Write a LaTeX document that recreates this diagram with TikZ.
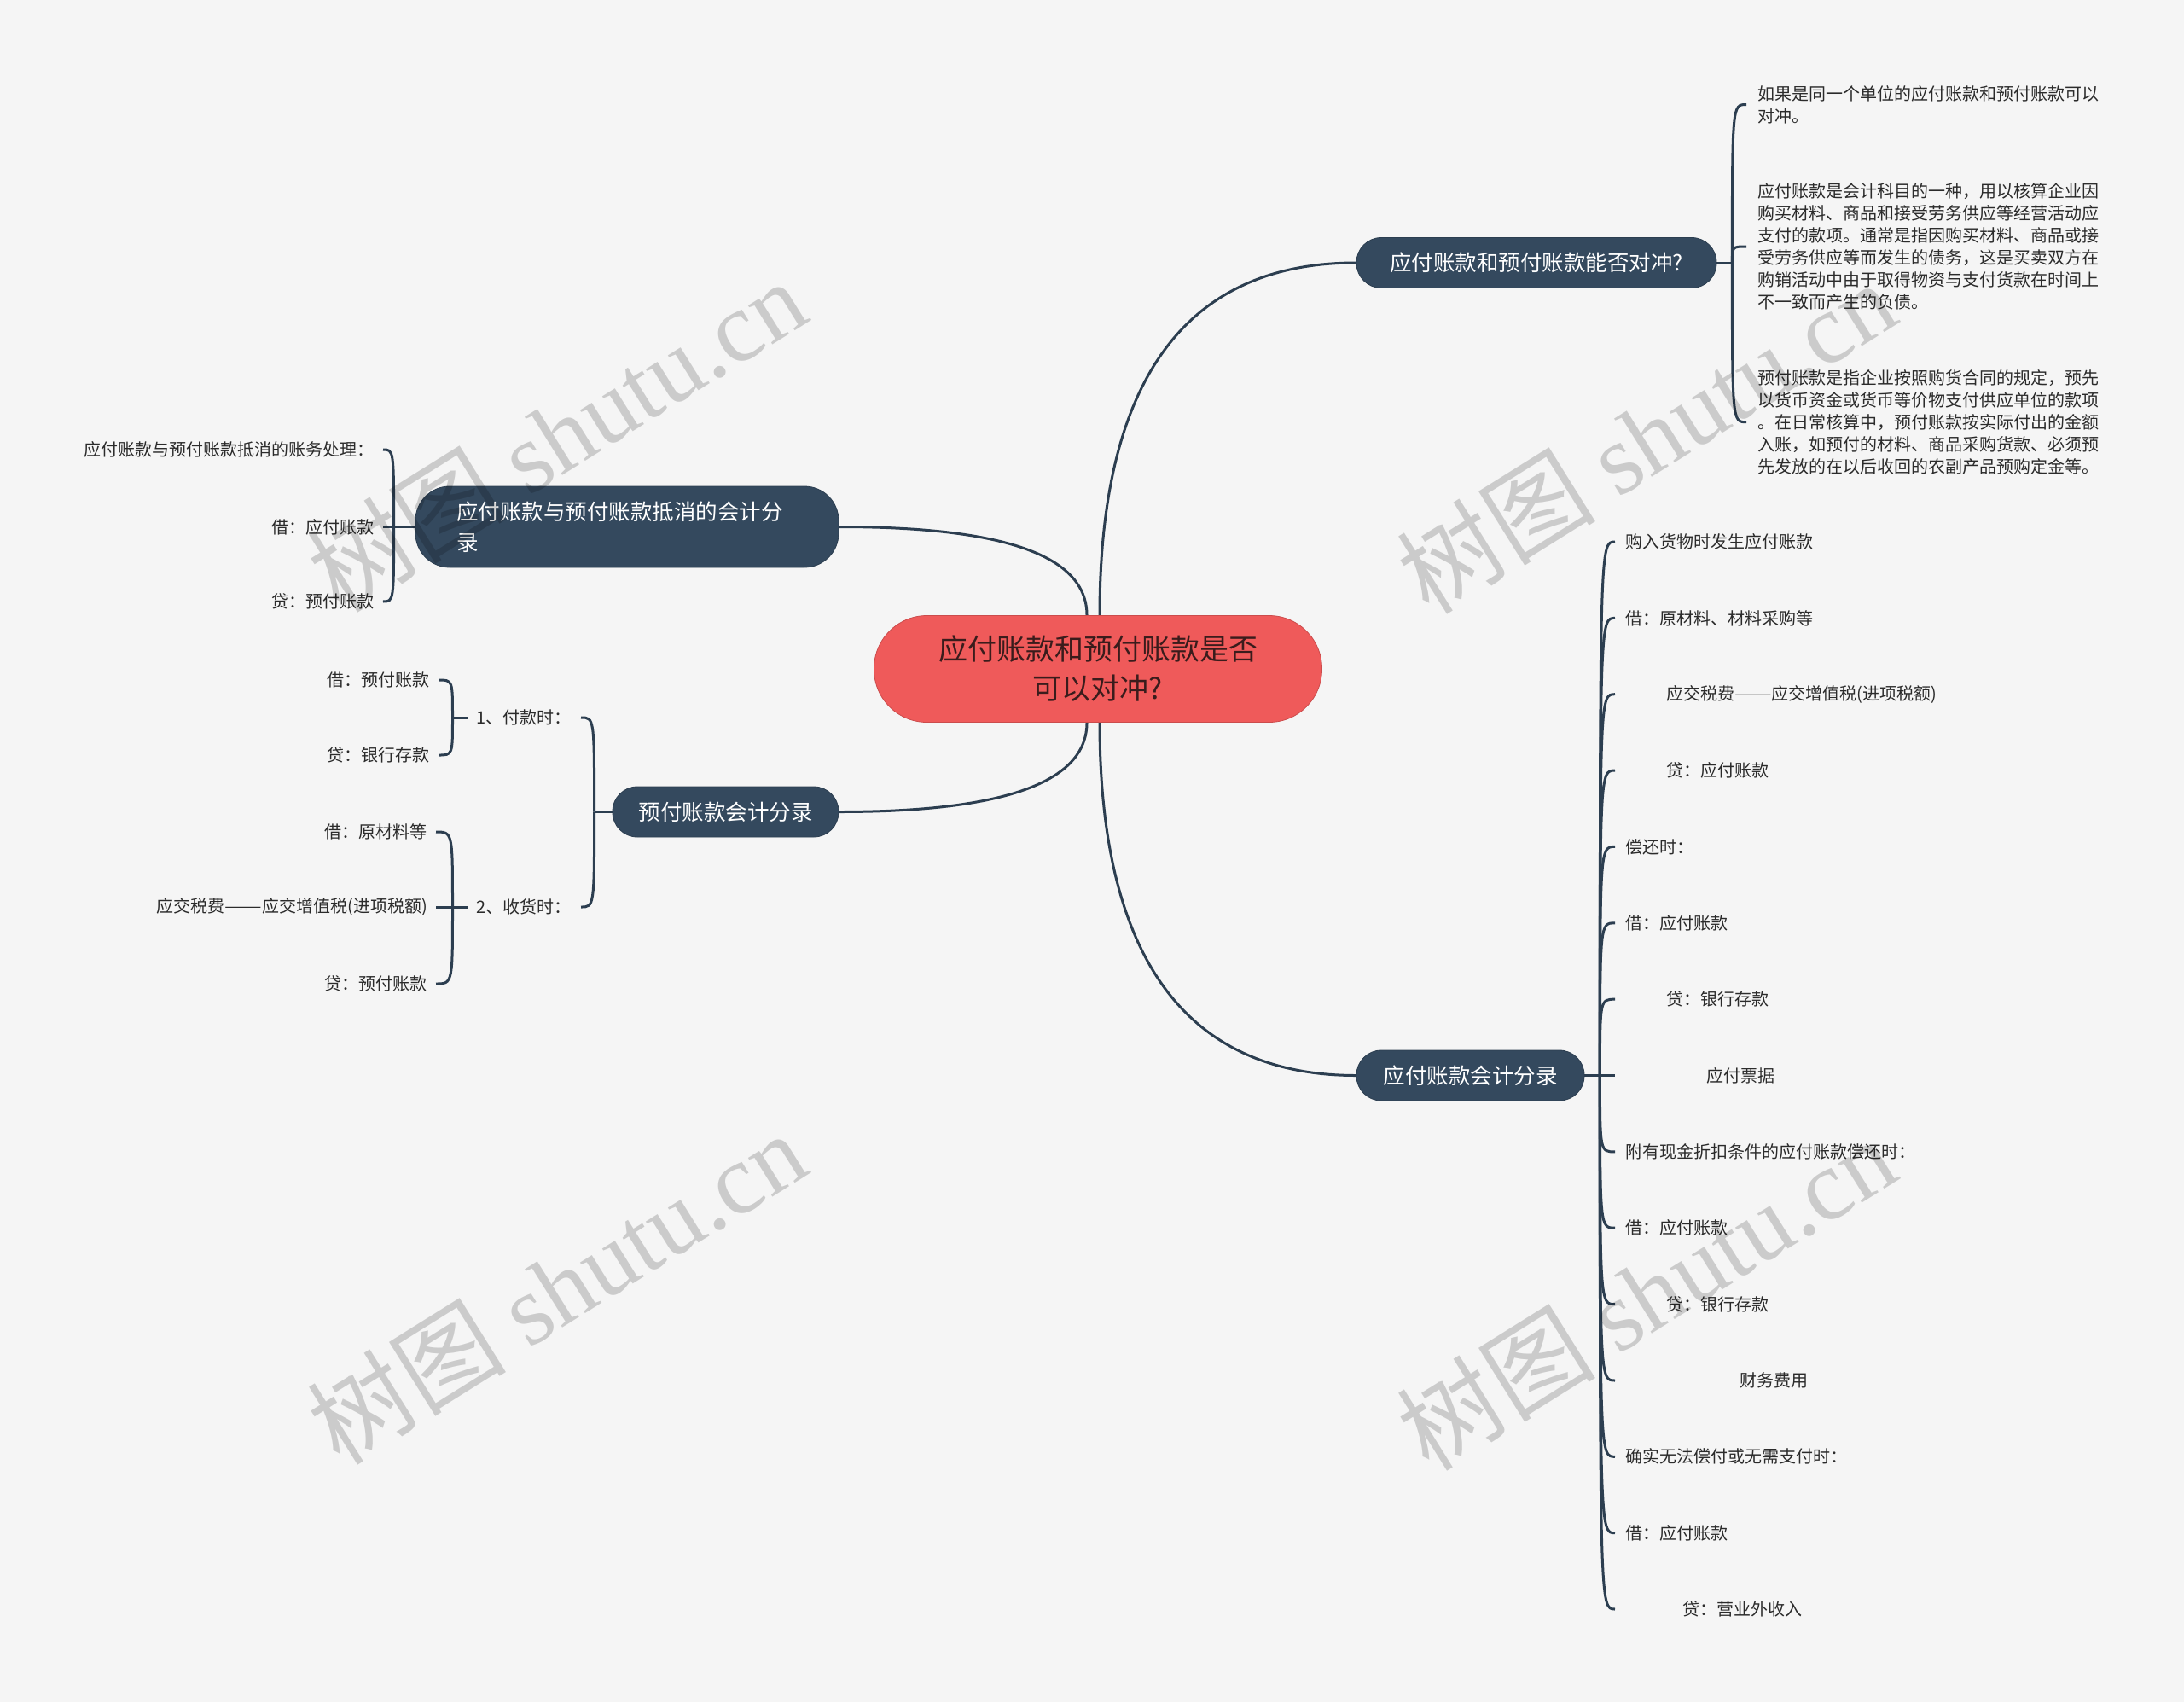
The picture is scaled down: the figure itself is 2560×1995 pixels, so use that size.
\documentclass[tikz,border=0pt]{standalone}
\usepackage{fontspec}
\usepackage{graphicx}
\setmainfont{Noto Sans CJK SC}
\newfontfamily\wmserif{Liberation Serif}
\usetikzlibrary{calc}
\definecolor{bgc}{HTML}{F5F5F5}
\definecolor{navy}{HTML}{34495E}
\definecolor{linec}{HTML}{2C3E50}
\definecolor{rootc}{HTML}{EF5A5A}
\definecolor{roottxt}{HTML}{3A1C1C}
\definecolor{leaftxt}{HTML}{2B2B2B}
\newcommand{\ldash}{\scalebox{1.3}[1]{——}}
\pgfdeclarelayer{back}
\pgfdeclarelayer{links}
\pgfsetlayers{back,links,main}
\begin{document}
\begin{tikzpicture}[x=1pt,y=-1pt,
 conn/.style={draw=linec,line width=3pt},
 rootnode/.style={fill=rootc,draw=rootc!85!black,line width=0.8pt,rounded corners=62pt,minimum width=525pt,minimum height=125pt,text=roottxt,font=\fontsize{34pt}{46pt}\selectfont,align=center,inner sep=0pt},
 branch/.style={fill=navy,draw=navy!85!black,line width=0.8pt,rounded corners=29pt,minimum height=59pt,text=white,font=\fontsize{25.5pt}{36pt}\selectfont,inner sep=0pt},
 leaf/.style={text=leaftxt,font=\fontsize{20pt}{26pt}\selectfont,inner ysep=4pt,inner xsep=10pt,align=left},
 wm/.style={text=black,text opacity=0.17,rotate=32,font=\fontsize{117pt}{117pt}\selectfont}
]
\useasboundingbox (0,0) rectangle (2560,1995);
\begin{pgfonlayer}{back}
\fill[bgc] (0,0) rectangle (2560,1995);
\end{pgfonlayer}

% root and branches
\node[rootnode] (root) at (1287,784) {应付账款和预付账款是否\\可以对冲?};
\node[branch,minimum width=422pt] (b1) at (1801,308) {应付账款和预付账款能否对冲?};
\node[branch,minimum width=496pt,minimum height=95pt,rounded corners=40pt,text width=400pt,align=left] (b2) at (735,617.5) {应付账款与预付账款抵消的会计分\\录};
\node[branch,minimum width=265pt] (b3) at (850.5,951.5) {预付账款会计分录};
\node[branch,minimum width=267pt] (b4) at (1723.5,1260.5) {应付账款会计分录};

% branch 1 leaves
\node[leaf,anchor=west,inner xsep=13pt] (p1) at (2047,122.5) {如果是同一个单位的应付账款和预付账款可以\\对冲。};
\node[leaf,anchor=west,inner xsep=13pt] (p2) at (2047,289) {应付账款是会计科目的一种，用以核算企业因\\购买材料、商品和接受劳务供应等经营活动应\\支付的款项。通常是指因购买材料、商品或接\\受劳务供应等而发生的债务，这是买卖双方在\\购销活动中由于取得物资与支付货款在时间上\\不一致而产生的负债。};
\node[leaf,anchor=west,inner xsep=13pt] (p3) at (2047,494.7) {预付账款是指企业按照购货合同的规定，预先\\以货币资金或货币等价物支付供应单位的款项\\。在日常核算中，预付账款按实际付出的金额\\入账，如预付的材料、商品采购货款、必须预\\先发放的在以后收回的农副产品预购定金等。};

% branch 2 leaves
\node[leaf,anchor=east] (q1) at (449,527) {应付账款与预付账款抵消的账务处理：};
\node[leaf,anchor=east] (q2) at (449,617.5) {借：应付账款};
\node[leaf,anchor=east] (q3) at (449,705) {贷：预付账款};

% branch 3 children
\node[leaf,anchor=east,inner xsep=11pt] (r1) at (681,841) {1、付款时：};
\node[leaf,anchor=east,inner xsep=11pt] (r2) at (681,1063) {2、收货时：};
\node[leaf,anchor=east] (r11) at (514,797) {借：预付账款};
\node[leaf,anchor=east] (r12) at (514,885) {贷：银行存款};
\node[leaf,anchor=east] (r21) at (511,975) {借：原材料等};
\node[leaf,anchor=east] (r22) at (511,1063) {应交税费\ldash 应交增值税(进项税额)};
\node[leaf,anchor=east] (r23) at (511,1153) {贷：预付账款};

% branch 4 leaves
\begin{scope}[every node/.append style={leaf,anchor=west,inner xsep=12pt}]
\node (a1) at (1893,635) {购入货物时发生应付账款};
\node (a2) at (1893,724.4) {借：原材料、材料采购等};
\node (a3) at (1893,813.7) {\hspace*{48pt}应交税费\ldash 应交增值税(进项税额)};
\node (a4) at (1893,903.1) {\hspace*{48pt}贷：应付账款};
\node (a5) at (1893,992.4) {偿还时：};
\node (a6) at (1893,1081.8) {借：应付账款};
\node (a7) at (1893,1171.2) {\hspace*{48pt}贷：银行存款};
\node (a8) at (1893,1260.5) {\hspace*{95pt}应付票据};
\node (a9) at (1893,1349.9) {附有现金折扣条件的应付账款偿还时：};
\node (a10) at (1893,1439.2) {借：应付账款};
\node (a11) at (1893,1528.6) {\hspace*{48pt}贷：银行存款};
\node (a12) at (1893,1618) {\hspace*{134pt}财务费用};
\node (a13) at (1893,1707.3) {确实无法偿付或无需支付时：};
\node (a14) at (1893,1796.7) {借：应付账款};
\node (a15) at (1893,1886) {\hspace*{67pt}贷：营业外收入};
\end{scope}

% junctions
\coordinate (j1) at ([xshift=18pt]b1.east);
\coordinate (j4) at ([xshift=18pt]b4.east);
\coordinate (j2) at ([xshift=-25pt]b2.west);
\coordinate (j3) at ([xshift=-21pt]b3.west);
\coordinate (jr1) at ([xshift=-17pt]r1.west);
\coordinate (jr2) at ([xshift=-17pt]r2.west);

\begin{pgfonlayer}{links}
\draw[conn] ([xshift=2pt]root.north) .. controls +(0,-276) and +(-200,0) .. (b1.west);
\draw[conn] ([xshift=2pt]root.south) .. controls +(0,275) and +(-200,0) .. (b4.west);
\draw[conn] ([xshift=-13pt]root.north) .. controls +(0,-70) and +(194,0) .. (b2.east);
\draw[conn] ([xshift=-13pt]root.south) .. controls +(0,70) and +(194,0) .. (b3.east);

\draw[conn] (b1.east) -- (j1);
\foreach \n in {p1,p2,p3} \draw[conn] (j1) .. controls (j1 |- \n.west) .. (\n.west);
\draw[conn] (b4.east) -- (j4);
\foreach \n in {a1,a2,a3,a4,a5,a6,a7,a8,a9,a10,a11,a12,a13,a14,a15} \draw[conn] (j4) .. controls (j4 |- \n.west) .. (\n.west);
\draw[conn] (b2.west) -- (j2);
\foreach \n in {q1,q2,q3} \draw[conn] (j2) .. controls (j2 |- \n.east) .. (\n.east);
\draw[conn] (b3.west) -- (j3);
\foreach \n in {r1,r2} \draw[conn] (j3) .. controls (j3 |- \n.east) .. (\n.east);
\draw[conn] (r1.west) -- (jr1);
\foreach \n in {r11,r12} \draw[conn] (jr1) .. controls (jr1 |- \n.east) .. (\n.east);
\draw[conn] (r2.west) -- (jr2);
\foreach \n in {r21,r22,r23} \draw[conn] (jr2) .. controls (jr2 |- \n.east) .. (\n.east);
\end{pgfonlayer}

% watermarks
\node[wm] (w1) at (652,510) {树图 {\wmserif shutu.cn}};
\node[wm] (w2) at (1929,512) {树图 {\wmserif shutu.cn}};
\node[wm] (w3) at (652,1509) {树图 {\wmserif shutu.cn}};
\node[wm] (w4) at (1929,1516) {树图 {\wmserif shutu.cn}};
\end{tikzpicture}
\end{document}
